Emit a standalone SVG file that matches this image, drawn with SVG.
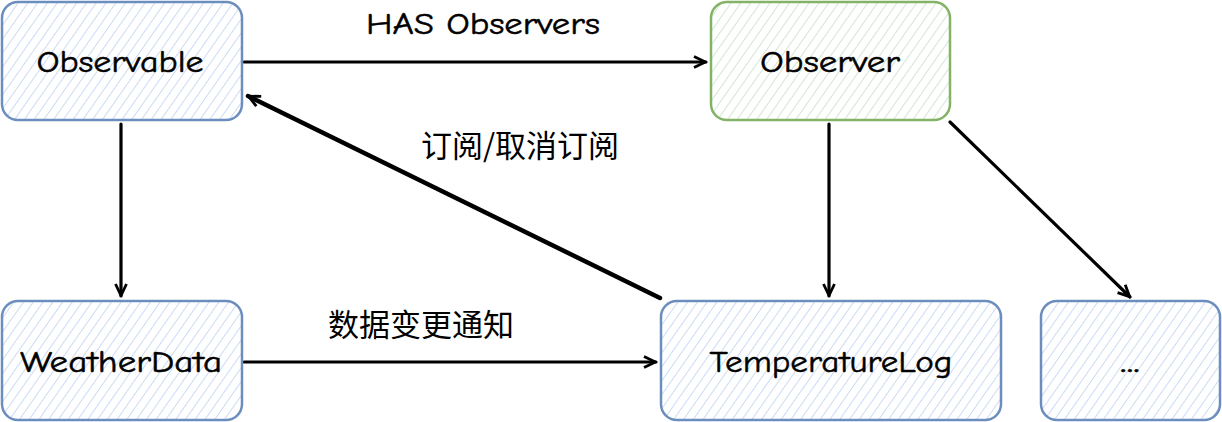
<svg xmlns="http://www.w3.org/2000/svg" width="1222" height="422" viewBox="0 0 1222 422">
<style>
.lbl{font-family:"Comic Neue","Open Sans","Liberation Sans",sans-serif;font-size:30px;fill:#000;text-anchor:middle;dominant-baseline:central;stroke:#000;stroke-width:0.5}
.cjk{font-family:"Noto Sans CJK SC",sans-serif;font-size:31px;fill:#000;text-anchor:middle;dominant-baseline:central}
.blue{fill:url(#hb);stroke:#6c8ebf;stroke-width:2.5}
.green{fill:url(#hg);stroke:#82b366;stroke-width:2.5}
.edge{stroke:#000;stroke-width:3.2;fill:none;stroke-linecap:round}
</style>
<defs>
<pattern id="hb" width="8" height="8" patternUnits="userSpaceOnUse" patternTransform="rotate(35)">
<rect width="8" height="8" fill="#fff"/>
<line x1="0" y1="0" x2="0" y2="8" stroke="#a9c4ec" stroke-width="1.2"/>
</pattern>
<pattern id="hg" width="8" height="8" patternUnits="userSpaceOnUse" patternTransform="rotate(35)">
<rect width="8" height="8" fill="#fff"/>
<line x1="0" y1="0" x2="0" y2="8" stroke="#b5d6b0" stroke-width="1.2"/>
</pattern>
<marker id="ah" viewBox="0 0 14 14" refX="13" refY="7" markerWidth="14" markerHeight="14" markerUnits="userSpaceOnUse" orient="auto">
<path d="M1,1.5 L12.5,7 L1,12.5" fill="none" stroke="#000" stroke-width="2.8" stroke-linejoin="miter"/>
</marker>
</defs>
<g id="connectors">
<line class="edge" x1="244" y1="62" x2="706" y2="62" marker-end="url(#ah)"/>
<line class="edge" x1="121" y1="124" x2="121" y2="296" marker-end="url(#ah)"/>
<line class="edge" x1="660" y1="298" x2="248" y2="96" marker-end="url(#ah)" style="stroke-width:4.5"/>
<line class="edge" x1="244" y1="362" x2="656" y2="362" marker-end="url(#ah)"/>
<line class="edge" x1="829" y1="124" x2="829" y2="296" marker-end="url(#ah)"/>
<line class="edge" x1="950" y1="122" x2="1130" y2="297" marker-end="url(#ah)"/>
<text class="lbl" x="483" y="24" textLength="234" lengthAdjust="spacingAndGlyphs">HAS Observers</text>
<text class="cjk" x="520" y="143">订阅/取消订阅</text>
<text class="cjk" x="421" y="322">数据变更通知</text>
</g>
<g id="observable">
<rect class="blue" x="2" y="2" width="240" height="118" rx="16"/>
<text class="lbl" x="120" y="62" textLength="167" lengthAdjust="spacingAndGlyphs">Observable</text>
</g>
<g id="observer">
<rect class="green" x="711" y="2" width="239" height="118" rx="16"/>
<text class="lbl" x="830" y="62" textLength="140" lengthAdjust="spacingAndGlyphs">Observer</text>
</g>
<g id="weatherdata">
<rect class="blue" x="2" y="301" width="240" height="119" rx="16"/>
<text class="lbl" x="121" y="362" textLength="202" lengthAdjust="spacingAndGlyphs">WeatherData</text>
</g>
<g id="temperaturelog">
<rect class="blue" x="661" y="301" width="340" height="119" rx="16"/>
<text class="lbl" x="831" y="362" textLength="243" lengthAdjust="spacingAndGlyphs">TemperatureLog</text>
</g>
<g id="more">
<rect class="blue" x="1041" y="301" width="179" height="119" rx="16"/>
<text class="lbl" x="1130" y="362" textLength="20" lengthAdjust="spacingAndGlyphs">...</text>
</g>
</svg>
